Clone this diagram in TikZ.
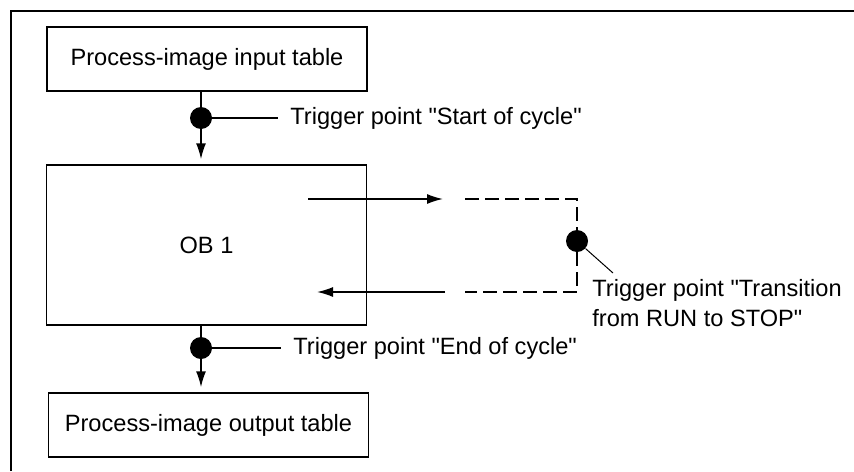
\documentclass[tikz,border=0pt]{standalone}
\usepackage{fontspec}
\setmainfont{Liberation Sans}[Ligatures=TeXOff]
\usetikzlibrary{arrows.meta}

\begin{document}
\begin{tikzpicture}[x=0.5pt,y=-0.5pt,
  tbl/.style={rectangle,draw=black,line width=0.75pt,minimum width=160pt,minimum height=32pt,inner sep=0,font=\fontsize{11.8}{15}\selectfont},
  obbox/.style={tbl,minimum height=80pt},
  trig/.style={circle,fill=black,minimum size=11pt,inner sep=0},
  lbl/.style={anchor=west,inner xsep=6pt,inner ysep=0,font=\fontsize{11.8}{15}\selectfont,align=left},
  frame/.style={line width=1pt},
  conn/.style={line width=0.75pt},
  flow/.style={conn,-{Latex[length=8pt,width=5pt]}},
  loopd/.style={conn,dash pattern=on 7pt off 3pt}]
\useasboundingbox (0,0) rectangle (854,471);
% outer frame, only top and left edge show
\draw[frame] (11,471) -- (11,10.5) -- (854,10.5);
% tables and the cycle block
\node[tbl] (pii) at (207,59) {Process-image input table};
\node[obbox] (ob) at (206.5,245) {OB 1};
\node[tbl] (pio) at (208.5,425) {Process-image output table};
% trigger points
\node[trig] (d1) at (201,118) {};
\node[trig] (d2) at (201,348) {};
\node[trig] (d3) at (577,241) {};
\node[lbl] (t1) at (278,118) {Trigger point "Start of cycle"};
\node[lbl] (t2) at (281,348) {Trigger point "End of cycle"};
\node[lbl,anchor=north west] (t3) at (580,279) {Trigger point "Transition\\from RUN to STOP"};
% vertical flow
\draw[conn] (pii.south -| d1) -- (d1);
\draw[flow] (d1) -- ([yshift=2.5pt]ob.north -| d1);
\draw[conn] (ob.south -| d2) -- (d2);
\draw[flow] (d2) -- ([yshift=2.5pt]pio.north -| d2);
\draw[conn] (d1) -- (t1);
\draw[conn] (d2) -- (t2);
% way out to STOP and back
\coordinate (o1) at (308,199);
\coordinate (o2) at (443,199);
\coordinate (o3) at (465,199);
\coordinate (o4) at (577,199);
\coordinate (r4) at (577,292);
\coordinate (r3) at (465,292);
\coordinate (r2) at (445,292);
\coordinate (r1) at (317,292);
\coordinate (lead) at (613,273);
\draw[flow] (o1) -- (o2);
\draw[loopd] (o3) -- (o4) -- (d3) -- (r4) -- (r3);
\draw[flow] (r2) -- (r1);
\draw[line width=0.5pt] (d3) -- (lead);
\end{tikzpicture}
\end{document}
